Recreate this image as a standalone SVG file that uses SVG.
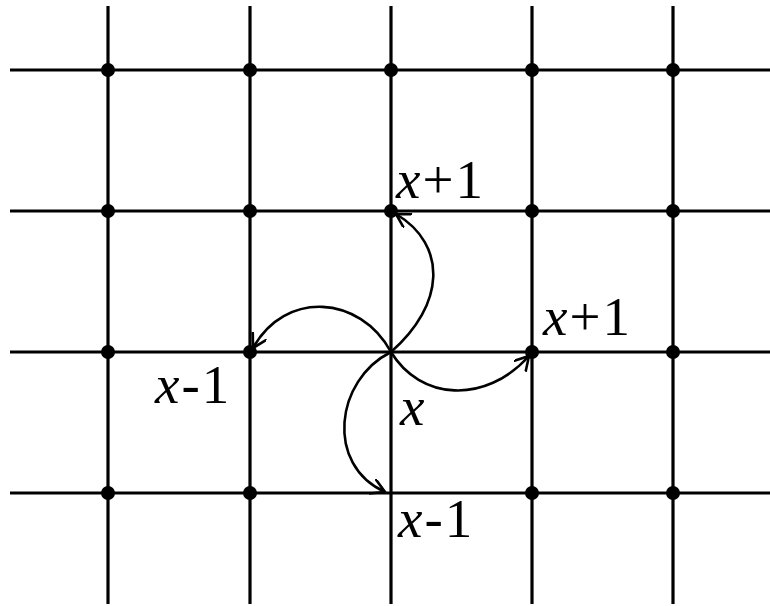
<svg xmlns="http://www.w3.org/2000/svg" width="770" height="606" viewBox="0 0 770 606">
<style>
.g{stroke:#000;stroke-width:3.2;fill:none}
.d{fill:#000}
.c{stroke:#000;stroke-width:2.6;fill:none;marker-end:url(#ah)}
text{font-family:'Liberation Serif','Times New Roman','DejaVu Serif',serif;font-size:55px;letter-spacing:2px;fill:#000}
.i{font-style:italic}
</style>
<defs>
<marker id="ah" markerWidth="18" markerHeight="18" refX="14" refY="8" orient="auto" markerUnits="userSpaceOnUse">
<path d="M0,0 L14,8 L0,16" stroke="#000" stroke-width="2.6" fill="none"/>
</marker>
</defs>
<g id="grid" class="g">
<line x1="108" y1="6" x2="108" y2="604"/>
<line x1="250" y1="6" x2="250" y2="604"/>
<line x1="391" y1="6" x2="391" y2="604"/>
<line x1="532" y1="6" x2="532" y2="604"/>
<line x1="673" y1="6" x2="673" y2="604"/>
<line x1="10" y1="70" x2="770" y2="70"/>
<line x1="10" y1="211" x2="770" y2="211"/>
<line x1="10" y1="352" x2="770" y2="352"/>
<line x1="10" y1="493" x2="770" y2="493"/>
</g>
<g id="nodes" class="d">
<circle cx="108" cy="70" r="7"/><circle cx="250" cy="70" r="7"/><circle cx="391" cy="70" r="7"/><circle cx="532" cy="70" r="7"/><circle cx="673" cy="70" r="7"/>
<circle cx="108" cy="211" r="7"/><circle cx="250" cy="211" r="7"/><circle cx="391" cy="211" r="7"/><circle cx="532" cy="211" r="7"/><circle cx="673" cy="211" r="7"/>
<circle cx="108" cy="352" r="7"/><circle cx="250" cy="352" r="7"/><circle cx="532" cy="352" r="7"/><circle cx="673" cy="352" r="7"/>
<circle cx="108" cy="493" r="7"/><circle cx="250" cy="493" r="7"/><circle cx="532" cy="493" r="7"/><circle cx="673" cy="493" r="7"/>
</g>
<g id="connectors">
<path class="c" d="M391,352 C445,305 448,245 396,214"/>
<path class="c" d="M391,352 C360,295 285,290 253,348"/>
<path class="c" d="M391,352 C420,400 485,405 529,356"/>
<path class="c" d="M391,352 C335,380 325,465 385,492"/>
</g>
<g id="labels">
<text x="396" y="198"><tspan class="i">x</tspan>+1</text>
<text x="543" y="335"><tspan class="i">x</tspan>+1</text>
<text x="155" y="403"><tspan class="i">x</tspan>-1</text>
<text x="400" y="425" class="i">x</text>
<text x="398" y="537"><tspan class="i">x</tspan>-1</text>
</g>
</svg>
